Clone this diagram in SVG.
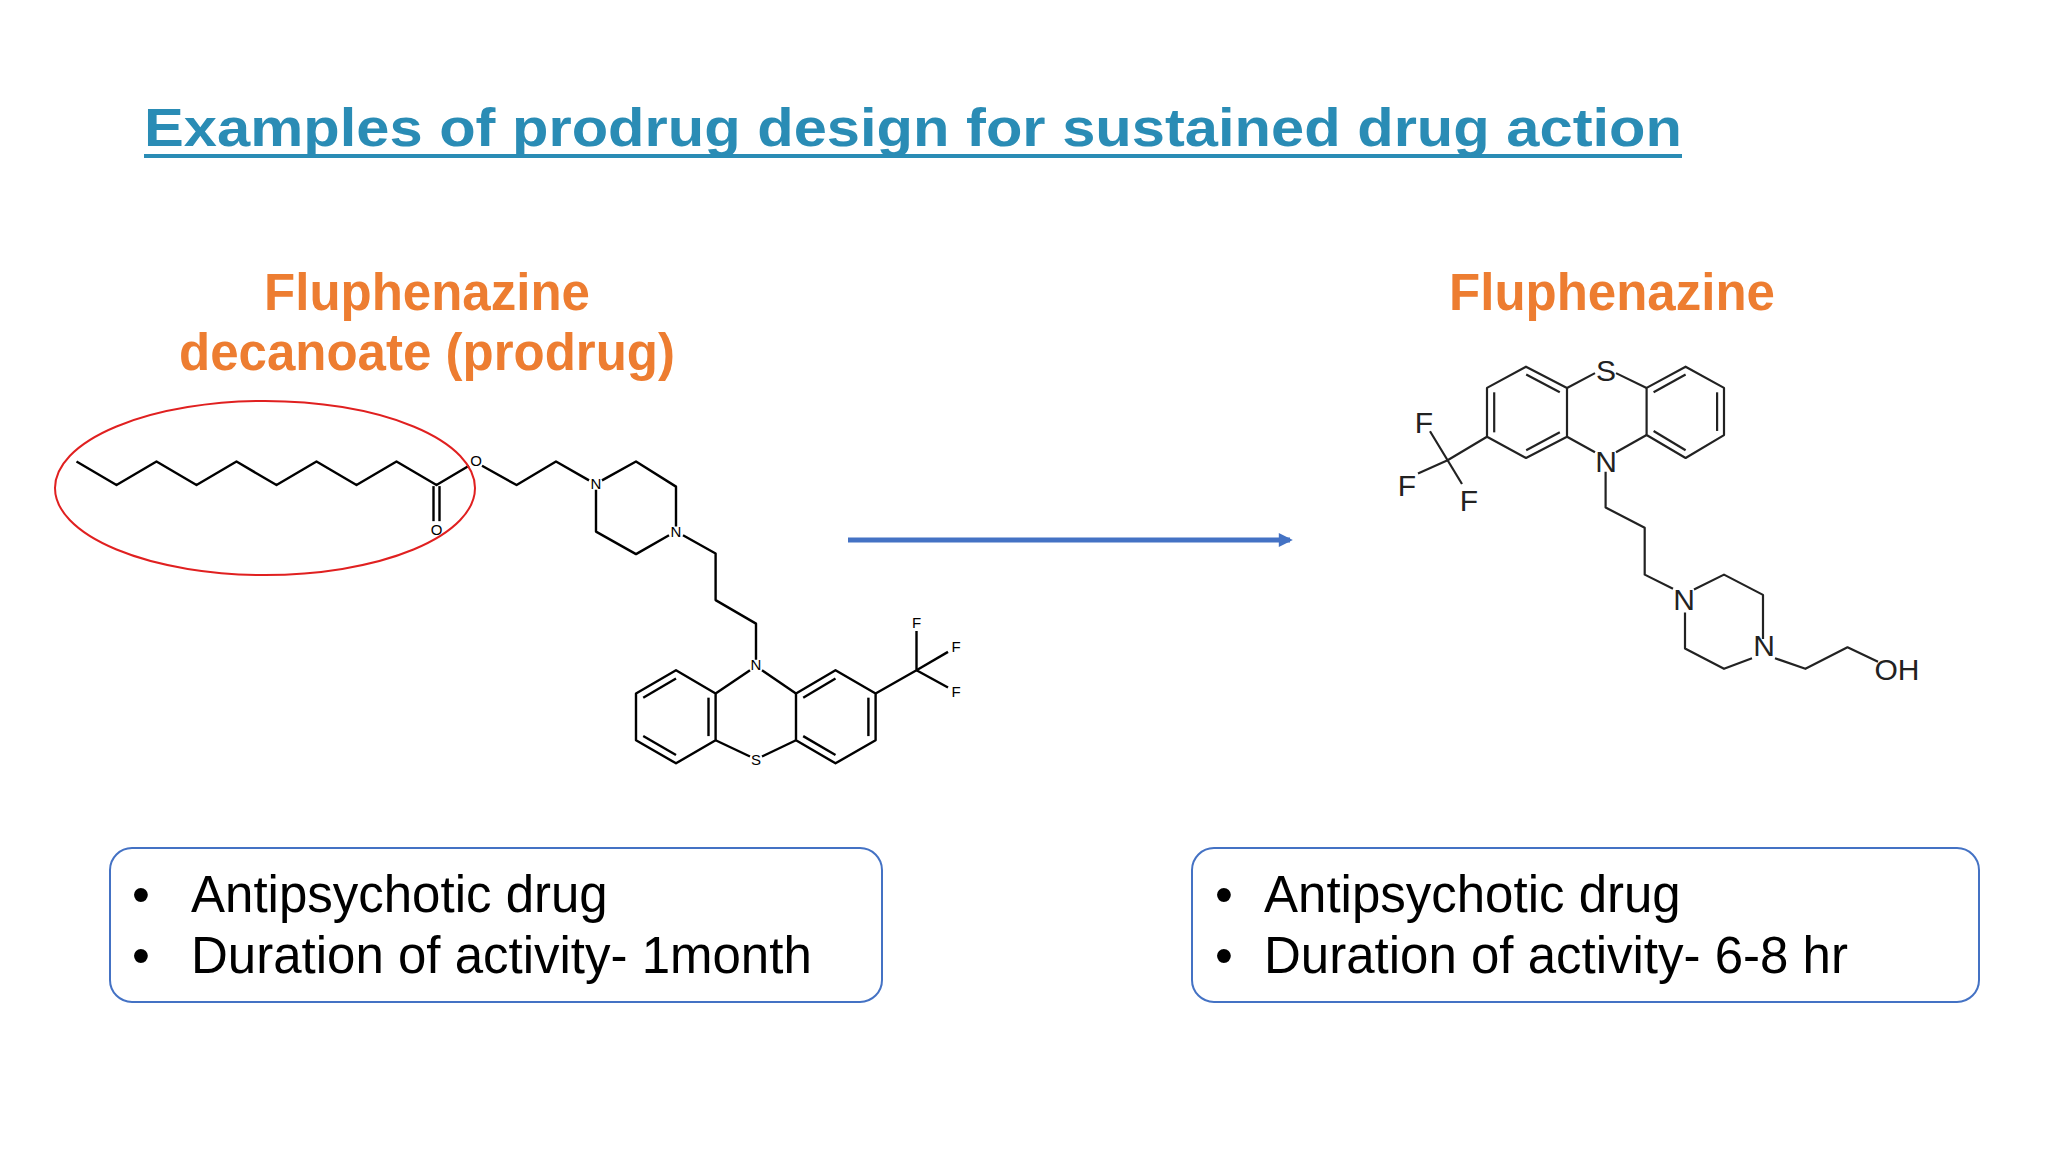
<svg xmlns="http://www.w3.org/2000/svg" width="2048" height="1152" viewBox="0 0 2048 1152">
<style>
.b{fill:none;stroke:#000;stroke-width:2.4;stroke-linejoin:round;vector-effect:non-scaling-stroke}
.b2{fill:none;stroke:#222;stroke-width:2.2;stroke-linejoin:round;vector-effect:non-scaling-stroke}
.sa{font-family:"Liberation Sans",Arial,sans-serif;font-size:15px;fill:#000;text-anchor:middle}
.sb{font-family:"Liberation Sans",Arial,sans-serif;font-size:30px;fill:#222;text-anchor:middle}
.lab{font-family:"Liberation Sans",Arial,sans-serif;font-weight:bold;font-size:51px;fill:#ED7D31;text-anchor:middle}
.box{fill:#fff;stroke:#4472C4;stroke-width:2}
.bt{font-family:"Liberation Sans",Arial,sans-serif;font-size:51px;fill:#000}
</style>
<defs>
<marker id="ah2" viewBox="0 0 10 10" refX="8" refY="5" markerWidth="18" markerHeight="14" orient="auto" markerUnits="userSpaceOnUse"><path d="M0,0 L10,5 L0,10 Z" fill="#4472C4"/></marker></defs>
<rect width="2048" height="1152" fill="#fff"/>
<g id="title">
<text x="144" y="146" font-family="Liberation Sans,Arial,sans-serif" font-weight="bold" font-size="54" fill="#2A8CB5" textLength="1538" lengthAdjust="spacingAndGlyphs">Examples of prodrug design for sustained drug action</text>
<rect x="144" y="154" width="1538" height="4" fill="#2A8CB5"/>
</g>
<g id="label-prodrug">
<text class="lab" x="427" y="310">Fluphenazine</text>
<text class="lab" x="427" y="370">decanoate (prodrug)</text>
</g>
<g id="label-drug"><text class="lab" x="1612" y="310">Fluphenazine</text></g>
<g id="prodrug">
<g transform="matrix(1,0,0,0.523,0,181.2)">
<polyline class="b" points="76.5,536 116.5,581 156.5,536 196.5,581 236.5,536 276.5,581 316.5,536 356.5,581 396.5,536 436.5,581 469,544"/>
<line class="b" x1="433.5" y1="583" x2="433.5" y2="650"/>
<line class="b" x1="439.5" y1="583" x2="439.5" y2="650"/>
<polyline class="b" points="482,544 516.6,581 556,536 589,572"/>
<polyline class="b" points="602,572 636,536 676,584 676,660"/>
<polyline class="b" points="669,677 636,713 596,670 596,590"/>
<polyline class="b" points="683,677 715.6,712 715.6,801 756,846 756,915"/>
<polygon class="b" points="715.6,979.5 676,935 636,979.5 636,1069 676,1113 715.6,1069"/>
<polygon class="b" points="796,979.5 835.5,935 875.6,979.5 875.6,1069 835.5,1113 796,1069"/>
<line class="b" x1="750" y1="935" x2="715.6" y2="979.5"/>
<line class="b" x1="762" y1="935" x2="796" y2="979.5"/>
<line class="b" x1="715.6" y1="1069" x2="750" y2="1100"/>
<line class="b" x1="796" y1="1069" x2="762" y2="1100"/>
<line class="b" x1="676" y1="951" x2="643.2" y2="987.6"/>
<line class="b" x1="643.2" y1="1060.9" x2="676" y2="1097"/>
<line class="b" x1="708.5" y1="987.5" x2="708.5" y2="1061"/>
<line class="b" x1="803.2" y1="987.5" x2="835.5" y2="951"/>
<line class="b" x1="868.4" y1="987.5" x2="868.4" y2="1061"/>
<line class="b" x1="835.5" y1="1097" x2="803.2" y2="1061"/>
<polyline class="b" points="875.6,979.5 916.5,935 916.5,860"/>
<line class="b" x1="916.5" y1="935" x2="948" y2="900"/>
<line class="b" x1="916.5" y1="935" x2="948" y2="968"/>
</g>
<text class="sa" x="436.5" y="535">O</text>
<text class="sa" x="476" y="466">O</text>
<text class="sa" x="596" y="489">N</text>
<text class="sa" x="676" y="537">N</text>
<text class="sa" x="756" y="670">N</text>
<text class="sa" x="756" y="765">S</text>
<text class="sa" x="916.5" y="628">F</text>
<text class="sa" x="956" y="652">F</text>
<text class="sa" x="956" y="697">F</text>
<ellipse cx="265" cy="488" rx="210" ry="87" fill="none" stroke="#E02020" stroke-width="2"/>
</g>
<g id="connectors">
<line x1="848" y1="540" x2="1290" y2="540" stroke="#4472C4" stroke-width="5" marker-end="url(#ah2)"/>
</g>
<g id="drug">
<g transform="matrix(1,0,0,0.88,0,35.2)">
<polygon class="b2" points="1567,400.8 1526,376.7 1487,400.8 1487,456.3 1526,480.4 1567,456.3"/>
<polygon class="b2" points="1646.6,400.8 1685.6,376.7 1724,400.8 1724,454.4 1685.6,480.4 1646.6,454.4"/>
<line class="b2" x1="1559.8" y1="405.8" x2="1526.2" y2="385.5"/>
<line class="b2" x1="1494.2" y1="405.8" x2="1494.2" y2="451.3"/>
<line class="b2" x1="1526.2" y1="471.6" x2="1559.8" y2="451.3"/>
<line class="b2" x1="1653.6" y1="405.8" x2="1685.6" y2="385.5"/>
<line class="b2" x1="1717.1" y1="405.8" x2="1717.1" y2="449.7"/>
<line class="b2" x1="1685.6" y1="471.6" x2="1653.6" y2="449.7"/>
<line class="b2" x1="1567" y1="400.8" x2="1595" y2="384"/>
<line class="b2" x1="1616" y1="384" x2="1646.6" y2="400.8"/>
<line class="b2" x1="1567" y1="456.3" x2="1595" y2="474"/>
<line class="b2" x1="1616" y1="474" x2="1646.6" y2="454.4"/>
<polyline class="b2" points="1605.6,496 1605.6,536.7 1644.7,559.6 1644.7,613 1673,629"/>
<polyline class="b2" points="1694,630 1724,613 1763,636 1763,686"/>
<polyline class="b2" points="1752,708 1724,720 1685,697 1685,656"/>
<polyline class="b2" points="1775,708 1805.4,720 1847.5,695.5 1878,712"/>
<polyline class="b2" points="1487,456.3 1447.6,483 1430,450"/>
<line class="b2" x1="1447.6" y1="483" x2="1418" y2="498"/>
<line class="b2" x1="1447.6" y1="483" x2="1462" y2="510"/>
</g>
<text class="sb" x="1606" y="381">S</text>
<text class="sb" x="1606" y="472">N</text>
<text class="sb" x="1684" y="610">N</text>
<text class="sb" x="1764" y="656">N</text>
<text class="sb" x="1897" y="680">OH</text>
<text class="sb" x="1424" y="433">F</text>
<text class="sb" x="1407" y="496">F</text>
<text class="sb" x="1469" y="511">F</text>
</g>
<g id="box-left">
<rect class="box" x="110" y="848" width="772" height="154" rx="22"/>
<text class="bt" x="132" y="912">•</text>
<text class="bt" x="191" y="912">Antipsychotic drug</text>
<text class="bt" x="132" y="973">•</text>
<text class="bt" x="191" y="973">Duration of activity- 1month</text>
</g>
<g id="box-right">
<rect class="box" x="1192" y="848" width="787" height="154" rx="22"/>
<text class="bt" x="1215" y="912">•</text>
<text class="bt" x="1264" y="912">Antipsychotic drug</text>
<text class="bt" x="1215" y="973">•</text>
<text class="bt" x="1264" y="973">Duration of activity- 6-8 hr</text>
</g>
</svg>
